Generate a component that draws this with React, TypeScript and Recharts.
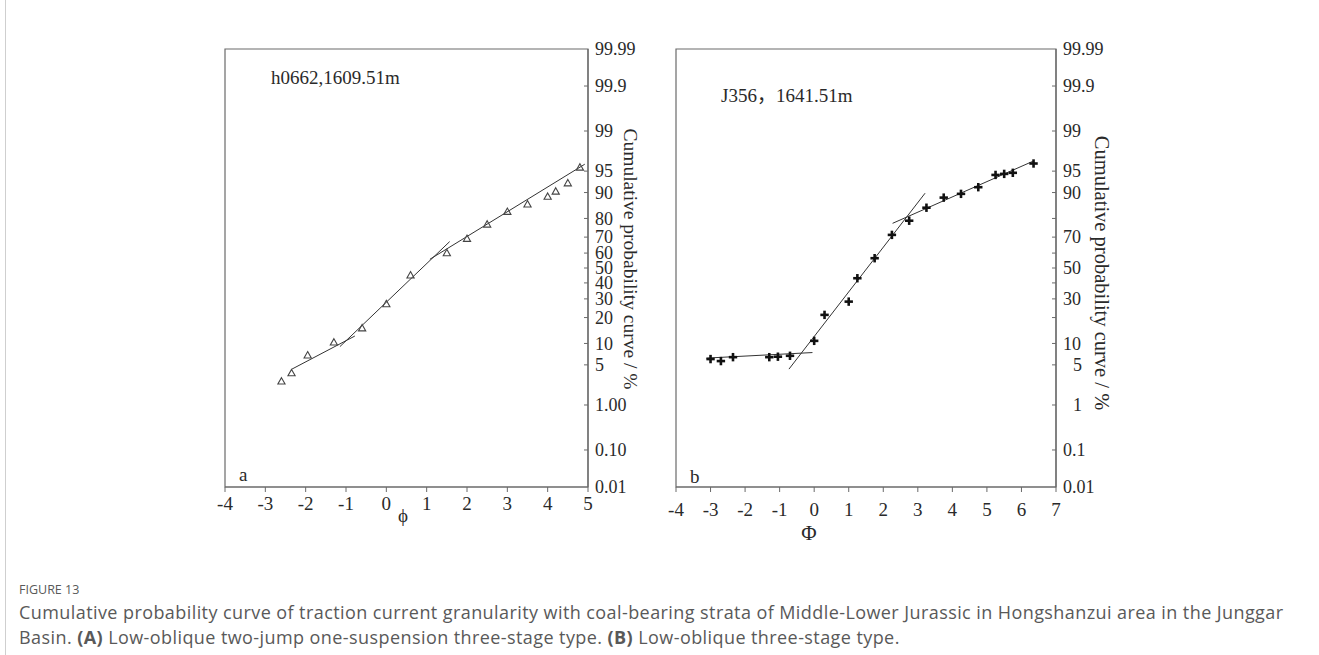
import React from 'react';
import { ScatterChart, Scatter, XAxis, YAxis, ReferenceArea } from 'recharts';

// ---------- data ----------
const probTicks = [99.99, 99.9, 99, 95, 90, 80, 70, 60, 50, 40, 30, 20, 10, 5, 1, 0.1, 0.01];
const probLabelsA = ['99.99', '99.9', '99', '95', '90', '80', '70', '60', '50', '40', '30', '20', '10', '5', '1.00', '0.10', '0.01'];
const probLabelsB = ['99.99', '99.9', '99', '95', '90', '', '70', '', '50', '', '30', '', '10', '5', '1', '0.1', '0.01'];
const phiTicksA = [-4, -3, -2, -1, 0, 1, 2, 3, 4, 5];
const phiTicksB = [-4, -3, -2, -1, 0, 1, 2, 3, 4, 5, 6, 7];

// panel a: triangles
const phiA = [-2.6, -2.35, -1.95, -1.3, -0.6, 0, 0.6, 1.5, 2.0, 2.5, 3.0, 3.5, 4.0, 4.2, 4.5, 4.8];
const pctA = [2.7, 3.7, 6.9, 10.3, 15.3, 27, 45, 60, 69, 77, 83, 86, 88.7, 90.3, 92.5, 95.6];
const segA1Phi = [-2.34, -0.78];
const segA1Pct = [4.3, 12.4];
const segA2Phi = [-1.15, 1.57];
const segA2Pct = [9.1, 67.3];
const segA3Phi = [1.08, 4.92];
const segA3Pct = [55.9, 96.1];

// panel b: crosses
const phiB = [-3, -2.7, -2.35, -1.3, -1.05, -0.7, 0, 0.3, 1.0, 1.25, 1.75, 2.25, 2.75, 3.25, 3.75, 4.25, 4.75, 5.25, 5.5, 5.75, 6.35];
const pctB = [6.1, 5.7, 6.5, 6.5, 6.6, 6.8, 10.8, 21.3, 28.4, 43.1, 56.6, 71.3, 78.9, 84.7, 88.4, 89.6, 91.5, 94.3, 94.5, 94.7, 96.2];
const segB1Phi = [-3.12, -0.05];
const segB1Pct = [6.3, 7.55];
const segB2Phi = [-0.73, 3.21];
const segB2Pct = [4.3, 89.8];
const segB3Phi = [2.27, 6.33];
const segB3Pct = [77.6, 96.5];

// ---------- probability (probit) scale ----------
function probit(p: number): number {
  const a = [-3.969683028665376e1, 2.209460984245205e2, -2.759285104469687e2, 1.38357751867269e2, -3.066479806614716e1, 2.506628277459239];
  const b = [-5.447609879822406e1, 1.615858368580409e2, -1.556989798598866e2, 6.680131188771972e1, -1.328068155288572e1];
  const c = [-7.784894002430293e-3, -3.223964580411365e-1, -2.400758277161838, -2.549671027184403, 4.374664141464968, 2.938163982698783];
  const d = [7.784695709041462e-3, 3.224671290700398e-1, 2.445134137142996, 3.754408661907416];
  const pl = 0.02425;
  if (p < pl) {
    const q = Math.sqrt(-2 * Math.log(p));
    return (((((c[0] * q + c[1]) * q + c[2]) * q + c[3]) * q + c[4]) * q + c[5]) / ((((d[0] * q + d[1]) * q + d[2]) * q + d[3]) * q + 1);
  }
  if (p <= 1 - pl) {
    const q = p - 0.5;
    const r = q * q;
    return ((((((a[0] * r + a[1]) * r + a[2]) * r + a[3]) * r + a[4]) * r + a[5]) * q) / (((((b[0] * r + b[1]) * r + b[2]) * r + b[3]) * r + b[4]) * r + 1);
  }
  const q = Math.sqrt(-2 * Math.log(1 - p));
  return -(((((c[0] * q + c[1]) * q + c[2]) * q + c[3]) * q + c[4]) * q + c[5]) / ((((d[0] * q + d[1]) * q + d[2]) * q + d[3]) * q + 1);
}
const zp = (pct: number) => probit(pct / 100);
const zMin = zp(0.01);
const zMax = zp(99.99);
const zTicks = probTicks.map(zp);

const toPts = (xs: number[], ps: number[]) => xs.map((x, i) => ({ x, y: zp(ps[i]) }));

const SERIF = '"Liberation Serif", "Times New Roman", serif';
const AXIS = '#6a6a6a';
const INK = '#2a2a2a';

const TriShape = (props: any) => {
  const { cx, cy } = props;
  return (
    <path
      d={`M${cx},${cy - 3.8} L${cx + 3.6},${cy + 2.6} L${cx - 3.6},${cy + 2.6} Z`}
      fill="none"
      stroke="#444"
      strokeWidth={1.1}
    />
  );
};

const PlusShape = (props: any) => {
  const { cx, cy } = props;
  return (
    <g stroke="#111" strokeWidth={2.6}>
      <line x1={cx - 4.2} x2={cx + 4.2} y1={cy} y2={cy} />
      <line x1={cx} x2={cx} y1={cy - 4.2} y2={cy + 4.2} />
    </g>
  );
};

const NoShape = () => <g />;

const makeYTick = (labels: string[], shiftSingle: boolean) => (props: any) => {
  const { x, y, payload } = props;
  const i = zTicks.findIndex((t) => Math.abs(t - payload.value) < 1e-6);
  const lab = i >= 0 ? labels[i] : '';
  const isEnd = i === 0 || i === zTicks.length - 1;
  return (
    <g>
      {!isEnd && <line x1={x - 4} x2={x} y1={y} y2={y} stroke={AXIS} strokeWidth={1} />}
      {lab && (
        <text
          x={x + 7 + (shiftSingle && lab.length === 1 ? 10 : 0)}
          y={y}
          dy="0.35em"
          fontSize={18}
          fontFamily={SERIF}
          fill={INK}
        >
          {lab}
        </text>
      )}
    </g>
  );
};

const makeXTick = (dy: number) => (props: any) => {
  const { x, y, payload } = props;
  return (
    <text x={x} y={y + dy} textAnchor="middle" dy="0.35em" fontSize={19} fontFamily={SERIF} fill={INK}>
      {String(payload.value)}
    </text>
  );
};

type PanelProps = {
  left: number;
  width: number;
  margin: { top: number; right: number; bottom: number; left: number };
  xDomain: [number, number];
  xTicks: number[];
  labels: string[];
  shiftSingle: boolean;
  xLabelDy: number;
  points: { x: number; y: number }[];
  segs: { x: number; y: number }[][];
  shape: any;
};

const Panel = (p: PanelProps) => (
  <div style={{ position: 'absolute', left: p.left, top: 0 }}>
    <ScatterChart width={p.width} height={560} margin={p.margin}>
      <XAxis
        type="number"
        dataKey="x"
        domain={p.xDomain}
        ticks={p.xTicks}
        interval={0}
        allowDataOverflow
        height={40}
        axisLine={{ stroke: AXIS, strokeWidth: 1.2 }}
        tickLine={{ stroke: AXIS, strokeWidth: 1 }}
        tickSize={5}
        tickMargin={0}
        tick={makeXTick(p.xLabelDy)}
      />
      <YAxis
        type="number"
        dataKey="y"
        orientation="right"
        domain={[zMin, zMax]}
        ticks={zTicks}
        interval={0}
        allowDataOverflow
        width={60}
        axisLine={{ stroke: AXIS, strokeWidth: 1.2 }}
        tickLine={false}
        tickSize={0}
        tickMargin={0}
        tick={makeYTick(p.labels, p.shiftSingle)}
      />
      <ReferenceArea
        x1={p.xDomain[0]}
        x2={p.xDomain[1]}
        y1={zMin}
        y2={zMax}
        fill="none"
        fillOpacity={0}
        stroke={AXIS}
        strokeWidth={1.2}
        ifOverflow="visible"
      />
      {p.segs.map((s, i) => (
        <Scatter
          key={i}
          data={s}
          line={{ stroke: '#333', strokeWidth: 1 }}
          shape={NoShape}
          isAnimationActive={false}
          legendType="none"
        />
      ))}
      <Scatter data={p.points} shape={p.shape} isAnimationActive={false} legendType="none" />
    </ScatterChart>
  </div>
);

export default function App() {
  return (
    <div style={{ position: 'absolute', left: 0, top: 0, width: 1319, height: 655, background: '#fff', overflow: 'hidden' }}>
      <div style={{ position: 'absolute', left: 5, top: 0, width: 1, height: 655, background: '#cfcfcf' }} />
      <Panel
        left={0}
        width={660}
        margin={{ top: 49, right: 12, bottom: 33, left: 225 }}
        xDomain={[-4, 5]}
        xTicks={phiTicksA}
        labels={probLabelsA}
        shiftSingle={false}
        xLabelDy={11}
        points={toPts(phiA, pctA)}
        segs={[toPts(segA1Phi, segA1Pct), toPts(segA2Phi, segA2Pct), toPts(segA3Phi, segA3Pct)]}
        shape={TriShape}
      />
      <Panel
        left={660}
        width={659}
        margin={{ top: 49, right: 203, bottom: 33, left: 16 }}
        xDomain={[-4, 7]}
        xTicks={phiTicksB}
        labels={probLabelsB}
        shiftSingle={true}
        xLabelDy={17}
        points={toPts(phiB, pctB)}
        segs={[toPts(segB1Phi, segB1Pct), toPts(segB2Phi, segB2Pct), toPts(segB3Phi, segB3Pct)]}
        shape={PlusShape}
      />
      <svg width={1319} height={655} style={{ position: 'absolute', left: 0, top: 0, pointerEvents: 'none' }}>
        <g fontFamily={SERIF} fill={INK}>
          <text x={271} y={84} fontSize={19}>h0662,1609.51m</text>
          <text x={721} y={102} fontSize={19}>
            J356<tspan fontFamily='"Noto Sans CJK SC", sans-serif'>，</tspan>1641.51m
          </text>
          <text x={239} y={481} fontSize={19}>a</text>
          <text x={690} y={483} fontSize={19}>b</text>
          <text x={403} y={522} fontSize={19} textAnchor="middle">ϕ</text>
          <text x={809} y={540} fontSize={21} textAnchor="middle">Φ</text>
          <text transform="translate(631,259) rotate(90)" fontSize={19.5} textAnchor="middle" dy="0.35em">
            Cumulative probability curve / %
          </text>
          <text transform="translate(1102,273) rotate(90)" fontSize={20.5} textAnchor="middle" dy="0.35em">
            Cumulative probability curve / %
          </text>
        </g>
      </svg>
      <div style={{ position: 'absolute', left: 19, top: 582, fontFamily: '"Open Sans", Lato, sans-serif', color: '#595959' }}>
        <div style={{ fontSize: 12.5, lineHeight: '16px', letterSpacing: 0 }}>FIGURE 13</div>
        <div style={{ fontSize: 18, lineHeight: '25px', marginTop: 2, whiteSpace: 'nowrap', letterSpacing: 0.42 }}>
          Cumulative probability curve of traction current granularity with coal-bearing strata of Middle-Lower Jurassic in Hongshanzui area in the Junggar
        </div>
        <div style={{ fontSize: 18, lineHeight: '25px', whiteSpace: 'nowrap', letterSpacing: 0.42 }}>
          Basin. <b>(A)</b> Low-oblique two-jump one-suspension three-stage type. <b>(B)</b> Low-oblique three-stage type.
        </div>
      </div>
    </div>
  );
}
